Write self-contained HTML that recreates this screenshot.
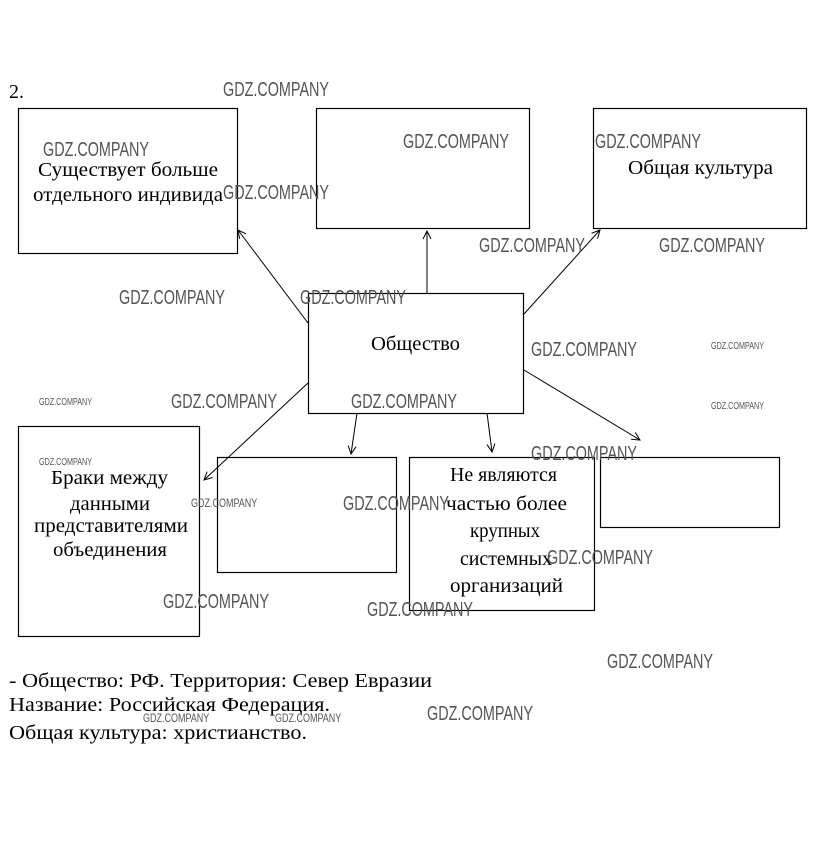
<!DOCTYPE html>
<html><head><meta charset="utf-8"><style>
html,body{margin:0;padding:0;background:#fff;}
svg{display:block;}
.t{font-family:"Liberation Serif","DejaVu Serif",serif;font-size:20px;fill:#000;}
.w{font-family:"Liberation Sans","DejaVu Sans",sans-serif;font-size:20px;fill:#555;}
.ws{font-family:"Liberation Sans","DejaVu Sans",sans-serif;font-size:10px;fill:#555;}
</style></head><body>
<svg width="823" height="844" viewBox="0 0 823 844" xmlns="http://www.w3.org/2000/svg">
<defs><marker id="a" markerWidth="10" markerHeight="10" refX="9" refY="5" orient="auto" markerUnits="userSpaceOnUse"><path d="M1,1 L9,5 L1,9" fill="none" stroke="#000" stroke-width="1"/></marker></defs>
<g fill="none" stroke="#000" stroke-width="1.2">
<rect x="18.5" y="108.5" width="219" height="145"/>
<rect x="316.5" y="108.5" width="213" height="120"/>
<rect x="593.5" y="108.5" width="213" height="120"/>
<rect x="308.5" y="293.5" width="215" height="120"/>
<rect x="18.5" y="426.5" width="181" height="210"/>
<rect x="217.5" y="457.5" width="179" height="115"/>
<rect x="409.5" y="457.5" width="185" height="153"/>
<rect x="600.5" y="457.5" width="179" height="70"/>
</g>
<g stroke="#000" stroke-width="1" marker-end="url(#a)">
<line x1="308" y1="323" x2="238" y2="230"/>
<line x1="427" y1="293" x2="427" y2="231"/>
<line x1="524" y1="314" x2="600" y2="230"/>
<line x1="308" y1="383" x2="204" y2="480"/>
<line x1="357" y1="413" x2="351" y2="454"/>
<line x1="487" y1="413" x2="492" y2="452"/>
<line x1="524" y1="370" x2="640" y2="440"/>
</g>
<text class="t" x="9" y="98">2.</text>
<text class="t" x="38" y="176" textLength="180" lengthAdjust="spacingAndGlyphs">Существует больше</text>
<text class="t" x="33" y="201" textLength="190" lengthAdjust="spacingAndGlyphs">отдельного индивида</text>
<text class="t" x="628" y="174" textLength="145" lengthAdjust="spacingAndGlyphs">Общая культура</text>
<text class="t" x="371" y="350" textLength="89" lengthAdjust="spacingAndGlyphs">Общество</text>
<text class="t" x="51" y="484" textLength="117" lengthAdjust="spacingAndGlyphs">Браки между</text>
<text class="t" x="70" y="510" textLength="80" lengthAdjust="spacingAndGlyphs">данными</text>
<text class="t" x="34" y="532" textLength="154" lengthAdjust="spacingAndGlyphs">представителями</text>
<text class="t" x="53" y="556" textLength="114" lengthAdjust="spacingAndGlyphs">объединения</text>
<text class="t" x="450" y="481" textLength="107" lengthAdjust="spacingAndGlyphs">Не являются</text>
<text class="t" x="446" y="510" textLength="121" lengthAdjust="spacingAndGlyphs">частью более</text>
<text class="t" x="470" y="537" textLength="70" lengthAdjust="spacingAndGlyphs">крупных</text>
<text class="t" x="460" y="565" textLength="92" lengthAdjust="spacingAndGlyphs">системных</text>
<text class="t" x="450" y="592" textLength="113" lengthAdjust="spacingAndGlyphs">организаций</text>
<text class="t" x="9" y="687" textLength="423" lengthAdjust="spacingAndGlyphs">- Общество: РФ. Территория: Север Евразии</text>
<text class="t" x="9" y="711" textLength="321" lengthAdjust="spacingAndGlyphs">Название: Российская Федерация.</text>
<text class="t" x="9" y="739" textLength="298" lengthAdjust="spacingAndGlyphs">Общая культура: христианство.</text>
<g>
<text class="w" transform="translate(223,96) scale(0.72,1)">GDZ.COMPANY</text>
<text class="w" transform="translate(43,156) scale(0.72,1)">GDZ.COMPANY</text>
<text class="w" transform="translate(223,199) scale(0.72,1)">GDZ.COMPANY</text>
<text class="w" transform="translate(403,148) scale(0.72,1)">GDZ.COMPANY</text>
<text class="w" transform="translate(595,148) scale(0.72,1)">GDZ.COMPANY</text>
<text class="w" transform="translate(479,252) scale(0.72,1)">GDZ.COMPANY</text>
<text class="w" transform="translate(659,252) scale(0.72,1)">GDZ.COMPANY</text>
<text class="w" transform="translate(119,304) scale(0.72,1)">GDZ.COMPANY</text>
<text class="w" transform="translate(300,304) scale(0.72,1)">GDZ.COMPANY</text>
<text class="w" transform="translate(531,356) scale(0.72,1)">GDZ.COMPANY</text>
<text class="w" transform="translate(171,408) scale(0.72,1)">GDZ.COMPANY</text>
<text class="w" transform="translate(351,408) scale(0.72,1)">GDZ.COMPANY</text>
<text class="w" transform="translate(531,460) scale(0.72,1)">GDZ.COMPANY</text>
<text class="w" transform="translate(343,510) scale(0.72,1)">GDZ.COMPANY</text>
<text class="w" transform="translate(547,564) scale(0.72,1)">GDZ.COMPANY</text>
<text class="w" transform="translate(163,608) scale(0.72,1)">GDZ.COMPANY</text>
<text class="w" transform="translate(367,616) scale(0.72,1)">GDZ.COMPANY</text>
<text class="w" transform="translate(607,668) scale(0.72,1)">GDZ.COMPANY</text>
<text class="w" transform="translate(427,720) scale(0.72,1)">GDZ.COMPANY</text>
<text class="ws" transform="translate(711,349) scale(0.72,1)">GDZ.COMPANY</text>
<text class="ws" transform="translate(711,409) scale(0.72,1)">GDZ.COMPANY</text>
<text class="ws" transform="translate(39,405) scale(0.72,1)">GDZ.COMPANY</text>
<text class="ws" transform="translate(39,465) scale(0.72,1)">GDZ.COMPANY</text>
<text class="ws" transform="translate(191,507) scale(0.9,1.2)">GDZ.COMPANY</text>
<text class="ws" transform="translate(143,722) scale(0.9,1.2)">GDZ.COMPANY</text>
<text class="ws" transform="translate(275,722) scale(0.9,1.2)">GDZ.COMPANY</text>
</g>
</svg>
</body></html>
